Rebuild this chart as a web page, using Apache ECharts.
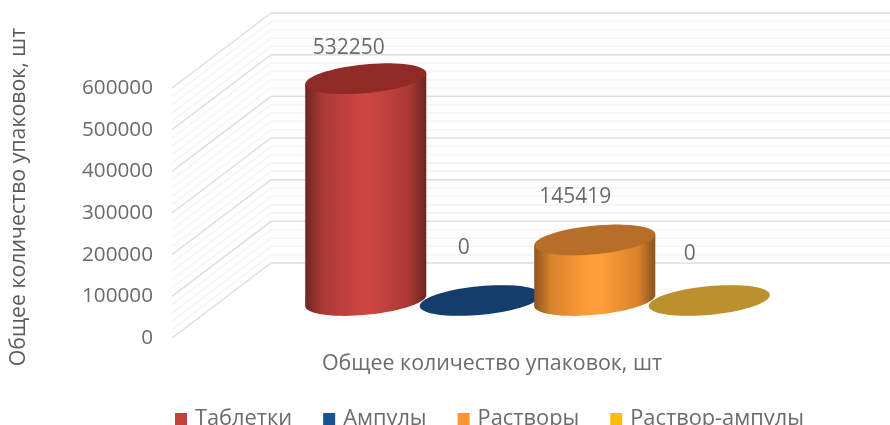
<!DOCTYPE html>
<html>
<head>
<meta charset="utf-8">
<style>
  html, body { margin: 0; padding: 0; background: #ffffff; }
  #chart { width: 890px; height: 425px; }
</style>
<script src="https://cdn.jsdelivr.net/npm/echarts@6/dist/echarts.min.js"></script>
</head>
<body>
<div id="chart"></div>
<script>
const categories = ['Общее количество упаковок, шт'];
const seriesNames = ['Таблетки', 'Ампулы', 'Растворы', 'Раствор-ампулы'];
const packValues = [532250, 0, 145419, 0];
const majorTicks = [0, 100000, 200000, 300000, 400000, 500000, 600000];
const minorTicks = [
  20000, 40000, 60000, 80000, 120000, 140000, 160000, 180000,
  220000, 240000, 260000, 280000, 320000, 340000, 360000, 380000,
  420000, 440000, 460000, 480000, 520000, 540000, 560000, 580000
];

const colors = ['#c0413c', '#1a5490', '#f79533', '#fdbb13'];
const topColors = ['#8f2a27', '#143d6b', '#b76e28', '#bb902d'];
const textColor = '#6b6b6b';
const fontFamily = '"Open Sans", sans-serif';

// 3D look: shift from the front plane to the back wall
const depthX = 99;
const depthY = 75;
const barStep = 114.5;
const barShift = 1;
const ellipseA = 60.8;
const ellipseB = 14.3;
const ellipseTilt = -5.5 * Math.PI / 180;
const labelShift = [[-17, -31], [-16.5, -52], [-19.5, -43], [-19.5, -46]];

function ellipsePoint(cx, cy, t) {
  const px = ellipseA * Math.cos(t);
  const py = ellipseB * Math.sin(t);
  return [
    cx + px * Math.cos(ellipseTilt) - py * Math.sin(ellipseTilt),
    cy + px * Math.sin(ellipseTilt) + py * Math.cos(ellipseTilt)
  ];
}

function ellipsePoints(cx, cy) {
  const pts = [];
  for (let i = 0; i < 72; i++) {
    pts.push(ellipsePoint(cx, cy, i * Math.PI * 2 / 72));
  }
  return pts;
}

// body = lower half of the base ellipse closed with the top of the cylinder
function bodyPoints(cx, baseY, topY) {
  const pts = [];
  const start = Math.atan2(ellipseB * Math.tan(ellipseTilt) * -1, ellipseA);
  for (let i = 0; i <= 36; i++) {
    pts.push(ellipsePoint(cx, baseY, start + i * Math.PI / 36));
  }
  const left = pts[pts.length - 1];
  const right = pts[0];
  pts.push([left[0], left[1] - (baseY - topY)]);
  pts.push([right[0], right[1] - (baseY - topY)]);
  return pts;
}

// multiply a #rrggbb colour by k
function shade(color, k) {
  const n = parseInt(color.slice(1), 16);
  const r = Math.min(255, Math.round((n >> 16) * k));
  const g = Math.min(255, Math.round(((n >> 8) & 255) * k));
  const b = Math.min(255, Math.round((n & 255) * k));
  return 'rgb(' + r + ',' + g + ',' + b + ')';
}

function bodyGradient(color) {
  const edge = shade(color, 0.58);
  const side = shade(color, 0.88);
  return {
    type: 'linear', x: 0, y: 0, x2: 1, y2: 0,
    colorStops: [
      { offset: 0, color: edge },
      { offset: 0.04, color: shade(color, 0.66) },
      { offset: 0.14, color: side },
      { offset: 0.45, color: shade(color, 1.06) },
      { offset: 0.55, color: shade(color, 1.06) },
      { offset: 0.86, color: side },
      { offset: 0.97, color: shade(color, 0.62) },
      { offset: 1, color: edge }
    ]
  };
}

function renderCylinder(index) {
  return function (params, api) {
    const value = api.value(1);
    const top = api.coord([api.value(0), value]);
    const base = api.coord([api.value(0), 0]);
    const cx = base[0] + depthX / 2 + (index - 1.5) * barStep + barShift;
    const baseY = base[1] - depthY / 2;
    const topY = top[1] - depthY / 2;
    const children = [];
    if (value > 0) {
      children.push({
        type: 'polygon',
        shape: { points: bodyPoints(cx, baseY, topY) },
        style: { fill: bodyGradient(colors[index]) }
      });
    }
    children.push({
      type: 'polygon',
      shape: { points: ellipsePoints(cx, topY) },
      style: { fill: topColors[index] }
    });
    children.push({
      type: 'text',
      style: {
        text: String(value),
        x: cx + labelShift[index][0],
        y: topY + labelShift[index][1],
        fill: textColor,
        font: '21px ' + fontFamily,
        textAlign: 'center',
        textVerticalAlign: 'middle'
      }
    });
    return { type: 'group', children: children };
  };
}

function renderWall(color, width) {
  return function (params, api) {
    const y = api.coord([0, api.value(0)])[1];
    const grid = params.coordSys;
    return {
      type: 'polyline',
      shape: {
        points: [
          [grid.x, y],
          [grid.x + depthX, y - depthY],
          [grid.x + grid.width + depthX, y - depthY]
        ]
      },
      style: { stroke: color, lineWidth: width, fill: null }
    };
  };
}

const chart = echarts.init(document.getElementById('chart'));

const option = {
  backgroundColor: '#ffffff',
  animation: false,
  grid: { left: 172, right: 88, top: 88, bottom: 87, outerBoundsMode: 'none' },
  legend: {
    left: 170,
    top: 403,
    itemWidth: 12,
    itemHeight: 12,
    itemGap: 31,
    icon: 'rect',
    data: seriesNames,
    textStyle: { color: textColor, fontSize: 21.8, fontFamily: fontFamily, padding: [0, 0, 0, 3] }
  },
  xAxis: {
    type: 'category',
    data: categories,
    axisLine: { show: false },
    axisTick: { show: false },
    axisLabel: { color: textColor, fontSize: 21.4, fontFamily: fontFamily, margin: 15, padding: [0, 0, 0, 10] }
  },
  yAxis: {
    type: 'value',
    min: 0,
    max: 600000,
    interval: 100000,
    name: categories[0],
    nameLocation: 'middle',
    nameGap: 143,
    nameTextStyle: { color: '#5c5c5c', fontSize: 21.3, fontFamily: fontFamily, padding: [0, 0, 0, 32] },
    axisLine: { show: false },
    axisTick: { show: false },
    splitLine: { show: false },
    axisLabel: {
      color: textColor,
      fontSize: 20.7,
      fontFamily: fontFamily,
      margin: 19,
      padding: [2, 0, 0, 0],
      formatter: (v) => String(v)
    }
  },
  series: [
    {
      type: 'custom', name: 'minor', silent: true, z: 1,
      data: minorTicks.map((t) => [t]),
      encode: { y: 0 },
      renderItem: renderWall('#f5f6f6', 2)
    },
    {
      type: 'custom', name: 'major', silent: true, z: 1,
      data: majorTicks.map((t) => [t]),
      encode: { y: 0 },
      renderItem: renderWall('#dedede', 1.5)
    }
  ].concat(seriesNames.map((name, i) => ({
    type: 'custom',
    name: name,
    z: 2 + i,
    itemStyle: { color: colors[i] },
    data: [[0, packValues[i]]],
    encode: { x: 0, y: 1 },
    renderItem: renderCylinder(i)
  })))
};

chart.setOption(option);
</script>
</body>
</html>
